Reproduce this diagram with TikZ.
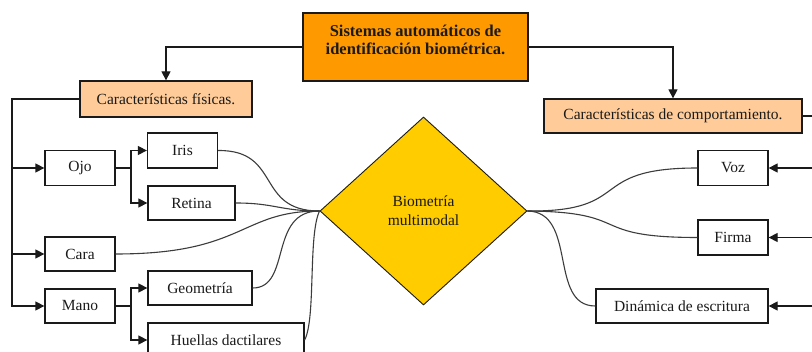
\documentclass[tikz,border=0pt]{standalone}
\usepackage{fontspec}
\setmainfont{Liberation Serif}
\usetikzlibrary{arrows.meta,shapes.geometric,calc}
\definecolor{orangebox}{HTML}{FF9900}
\definecolor{peach}{HTML}{FFCC99}
\definecolor{gold}{HTML}{FFCC00}
\definecolor{ink}{HTML}{1A1A1A}
\tikzset{
  box/.style={draw=ink, line width=1.3pt, fill=white, inner sep=0pt, anchor=center,
    font=\fontsize{15.5}{18}\selectfont, text=ink},
  catbox/.style={box, fill=peach},
  link/.style={draw=ink, line width=1.3pt},
  arr/.style={link, -{Triangle[length=9pt,width=9pt]}},
  curve/.style={draw=ink!85, line width=1.1pt},
}
\begin{document}
\begin{tikzpicture}[x=1pt,y=-1pt]
\clip (0,0) rectangle (812,352);
\fill[white] (0,0) rectangle (812,352);
% top box
\node[box, fill=orangebox, minimum width=225pt, minimum height=68pt] (top) at (415.5,47) {};
\node[font=\fontsize{16.5}{18}\selectfont\bfseries, text=ink, align=center, inner sep=0pt] (toptext) at (415.5,40) {Sistemas automáticos de\\identificación biométrica.};
% category boxes
\node[catbox, minimum width=172pt, minimum height=36pt] (fis) at (166,99) {Características físicas.};
\node[catbox, minimum width=258pt, minimum height=34pt] (comp) at (673,116) {Características de comportamiento.};
\draw[arr] (top.west) -| (fis.north);
\draw[arr] (top.east) -| (comp.north);
\coordinate (compout) at (812,116);
\draw[link] (comp.east) -- (compout);
% left boxes
\node[box, minimum width=70pt, minimum height=35pt] (ojo) at (80,168) {Ojo};
\node[box, minimum width=70pt, minimum height=34pt] (cara) at (80,254) {Cara};
\node[box, minimum width=70pt, minimum height=34pt] (mano) at (80,306) {Mano};
\node[box, minimum width=70pt, minimum height=35pt] (iris) at (182.5,150.5) {Iris};
\node[box, minimum width=87pt, minimum height=34pt] (retina) at (191.5,203) {Retina};
\node[box, minimum width=104pt, minimum height=34pt] (geom) at (200,288) {Geometría};
\node[box, minimum width=156pt, minimum height=34pt] (huellas) at (226,340) {Huellas dactilares};
% left tree
\coordinate (lc) at (12,99);
\draw[arr] (fis.west) -- (lc) |- (mano.west);
\draw[arr] (lc |- ojo.west) -- (ojo.west);
\draw[arr] (lc |- cara.west) -- (cara.west);
\coordinate (ob) at (131,168);
\draw[link] (ojo.east) -- (ob);
\draw[arr] (ob) |- (iris.west);
\draw[arr] (ob) |- (retina.west);
\coordinate (mb) at (131,306);
\draw[link] (mano.east) -- (mb);
\draw[arr] (mb) |- (geom.west);
\draw[arr] (mb) |- (huellas.west);
% diamond
\node[diamond, draw=ink, line width=0.9pt, fill=gold, minimum width=207pt, minimum height=188pt, inner sep=0pt,
  font=\fontsize{15.5}{19}\selectfont, text=ink, align=center] (dia) at (423.5,211) {Biometría\\multimodal};
% curves left
\draw[curve] (iris.east) .. controls (282,150) and (255,211) .. (dia.west);
\draw[curve] (retina.east) .. controls (275,203) and (280,211) .. (dia.west);
\draw[curve] (cara.east) .. controls (245,254) and (240,211) .. (dia.west);
\draw[curve] (geom.east) .. controls (292,288) and (268,211) .. (dia.west);
\draw[curve] (huellas.east) .. controls (316,318) and (308,235) .. (dia.west);
% right boxes
\node[box, minimum width=70pt, minimum height=35pt] (voz) at (733,168) {Voz};
\node[box, minimum width=70pt, minimum height=35pt] (firma) at (733,237.5) {Firma};
\node[box, minimum width=172pt, minimum height=34pt] (din) at (682,306) {Dinámica de escritura};
\coordinate (vin) at (812,168);
\coordinate (fin) at (812,237.5);
\coordinate (din2) at (812,306);
\draw[arr] (vin) -- (voz.east);
\draw[arr] (fin) -- (firma.east);
\draw[arr] (din2) -- (din.east);
% curves right
\draw[curve] (dia.east) .. controls (635,212) and (585,168) .. (voz.west);
\draw[curve] (dia.east) .. controls (635,212) and (585,237.5) .. (firma.west);
\draw[curve] (dia.east) .. controls (578,212) and (548,306) .. (din.west);
\end{tikzpicture}
\end{document}
